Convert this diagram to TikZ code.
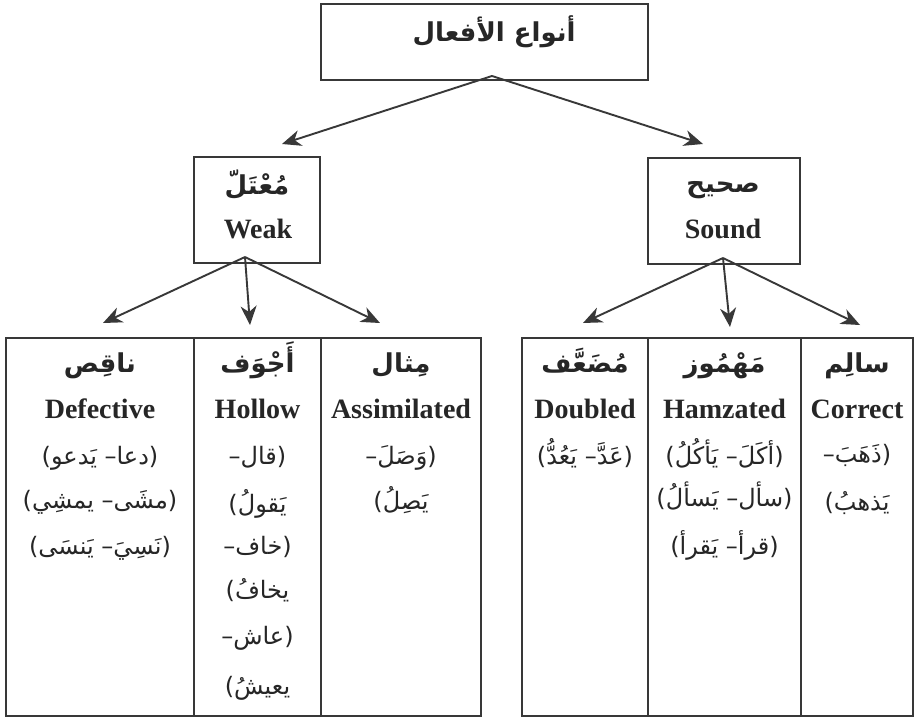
\documentclass[tikz,border=0pt]{standalone}
\usepackage{fontspec}
\setmainfont{Liberation Serif}
\newfontfamily\arabicfont[Script=Arabic]{DejaVu Sans}
\TeXXeTstate=1
\usetikzlibrary{arrows.meta}
\definecolor{ln}{HTML}{383838}
\definecolor{tx}{HTML}{262626}
\begin{document}
\begin{tikzpicture}[x=1pt,y=-1pt,
  box/.style={draw=ln, line width=1.6pt, rectangle, inner sep=0pt, outer sep=0pt},
  arr/.style={draw=ln, line width=1.9pt, -{Stealth[length=19pt,width=16pt,inset=6pt]}},
  en/.style={font=\bfseries\fontsize{28}{30}\selectfont, text=tx, anchor=base, inner sep=0pt},
  arh/.style={font=\arabicfont\bfseries\fontsize{26}{30}\selectfont, text=tx, anchor=base, inner sep=0pt},
  art/.style={font=\arabicfont\bfseries\fontsize{26}{30}\selectfont, text=tx, anchor=base, inner sep=0pt},
  ar/.style={font=\arabicfont\fontsize{24}{28}\selectfont, text=tx, anchor=base, inner sep=0pt}
]
\useasboundingbox (0,0) rectangle (917,720);
\fill[white] (0,0) rectangle (917,720);

% boxes
\node[box, minimum width=327pt, minimum height=76pt] (top) at (484.5,42) {};
\node[box, minimum width=126pt, minimum height=106pt] (weak) at (257,210) {};
\node[box, minimum width=152pt, minimum height=106pt] (sound) at (724,211) {};

\node[box, minimum width=188pt, minimum height=378pt] (def) at (100,527) {};
\node[box, minimum width=127pt, minimum height=378pt] (hol) at (257.5,527) {};
\node[box, minimum width=160pt, minimum height=378pt] (ass) at (401,527) {};
\node[box, minimum width=126pt, minimum height=378pt] (dbl) at (585,527) {};
\node[box, minimum width=153pt, minimum height=378pt] (ham) at (724.5,527) {};
\node[box, minimum width=112pt, minimum height=378pt] (cor) at (857,527) {};

% texts of upper boxes
\node[art] (toptxt) at (494,41) {\beginR أنواع الأفعال\endR};
\node[arh] (weakar) at (257,194) {\beginR مُعْتَلّ\endR};
\node[en] (weaken) at (258,238) {Weak};
\node[arh] (soundar) at (723,192) {\beginR صحيح\endR};
\node[en] (sounden) at (723,238) {Sound};

% column headers
\node[arh] (defar) at (100,372) {\beginR ناقِص\endR};
\node[en] (defen) at (100,418) {Defective};
\node[arh] (holar) at (257.5,372) {\beginR أَجْوَف\endR};
\node[en] (holen) at (257.5,418) {Hollow};
\node[arh] (assar) at (401,372) {\beginR مِثال\endR};
\node[en] (assen) at (401,418) {Assimilated};
\node[arh] (dblar) at (585,372) {\beginR مُضَعَّف\endR};
\node[en] (dblen) at (585,418) {Doubled};
\node[arh] (hamar) at (724.5,372) {\beginR مَهْمُوز\endR};
\node[en] (hamen) at (724.5,418) {Hamzated};
\node[arh] (corar) at (857,372) {\beginR سالِم\endR};
\node[en] (coren) at (857,418) {Correct};

% examples
\node[ar] (def1) at (100,464) {\beginR (دعا– يَدعو)\endR};
\node[ar] (def2) at (100,508) {\beginR (مشَى– يمشِي)\endR};
\node[ar] (def3) at (100,554) {\beginR (نَسِيَ– يَنسَى)\endR};

\node[ar] (hol1) at (257.5,464) {\beginR (قال–\endR};
\node[ar] (hol2) at (257.5,512) {\beginR يَقولُ)\endR};
\node[ar] (hol3) at (257.5,554) {\beginR (خاف–\endR};
\node[ar] (hol4) at (257.5,598) {\beginR يخافُ)\endR};
\node[ar] (hol5) at (257.5,644) {\beginR (عاش–\endR};
\node[ar] (hol6) at (257.5,694) {\beginR يعيشُ)\endR};

\node[ar] (ass1) at (401,464) {\beginR (وَصَلَ–\endR};
\node[ar] (ass2) at (401,509) {\beginR يَصِلُ)\endR};

\node[ar] (dbl1) at (585,464) {\beginR (عَدَّ– يَعُدُّ)\endR};

\node[ar] (ham1) at (724.5,464) {\beginR (أكَلَ– يَأكُلُ)\endR};
\node[ar] (ham2) at (724.5,506) {\beginR (سأل– يَسألُ)\endR};
\node[ar] (ham3) at (724.5,554) {\beginR (قرأ– يَقرأ)\endR};

\node[ar] (cor1) at (857,462) {\beginR (ذَهَبَ–\endR};
\node[ar] (cor2) at (857,510) {\beginR يَذهبُ)\endR};

% connector start points and tips
\coordinate (topap) at ([xshift=7.5pt,yshift=4pt]top.south);
\coordinate (weakap) at ([xshift=-12pt,yshift=6pt]weak.south);
\coordinate (soundap) at ([xshift=-1pt,yshift=6pt]sound.south);

\coordinate (weaktip) at ([xshift=25pt,yshift=13pt]weak.north);
\coordinate (soundtip) at ([xshift=-21pt,yshift=14pt]sound.north);
\coordinate (deftip) at ([xshift=3pt,yshift=15pt]def.north);
\coordinate (holtip) at ([xshift=-7.5pt,yshift=13pt]hol.north);
\coordinate (asstip) at ([xshift=-21pt,yshift=15pt]ass.north);
\coordinate (dbltip) at ([xshift=-2pt,yshift=15pt]dbl.north);
\coordinate (hamtip) at ([xshift=5.5pt,yshift=11pt]ham.north);
\coordinate (cortip) at ([xshift=3pt,yshift=13pt]cor.north);

\draw[arr] (topap) -- (weaktip);
\draw[arr] (topap) -- (soundtip);
\draw[arr] (weakap) -- (deftip);
\draw[arr] (weakap) -- (holtip);
\draw[arr] (weakap) -- (asstip);
\draw[arr] (soundap) -- (dbltip);
\draw[arr] (soundap) -- (hamtip);
\draw[arr] (soundap) -- (cortip);
\end{tikzpicture}
\end{document}
